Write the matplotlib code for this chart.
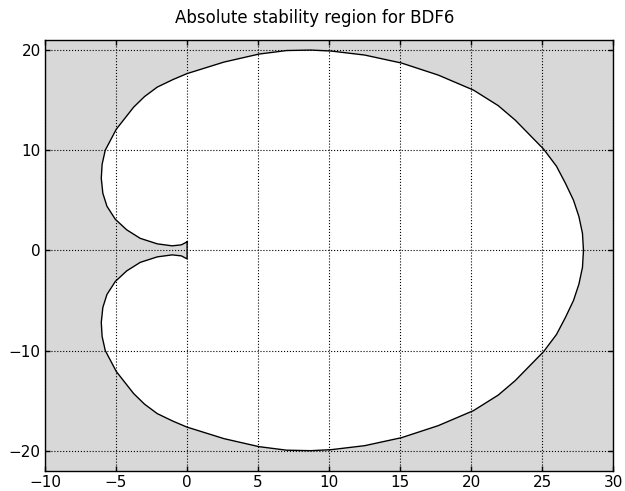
import matplotlib
matplotlib.use("Agg")
import matplotlib.pyplot as plt

# boundary of the region, upper half
# (from the small notch at the origin, round the left, over the top, to the right end)
upper_x = [0.0, -0.4, -1.05, -2.1, -3.3, -4.25, -5.05, -5.64, -5.93, -6.04, -5.98,
           -5.76, -4.98, -3.76, -3.0, -2.1, -1.0, 0.0, 2.6, 5.07, 7.0, 8.7, 10.14, 12.5, 15.1,
           17.68, 20.16, 21.9, 23.1, 25.1, 26.0, 26.63, 27.2, 27.58, 27.83, 27.9]
upper_y = [0.85, 0.55, 0.45, 0.65, 1.2, 2.05, 3.1, 4.4, 5.7, 7.2, 8.6,
           10.0, 12.1, 14.3, 15.35, 16.3, 17.05, 17.65, 18.8, 19.6, 19.95, 20.0, 19.9, 19.5, 18.7,
           17.5, 16.0, 14.45, 13.0, 10.1, 8.4, 6.7, 5.0, 3.37, 1.7, 0.0]

# the curve is symmetric about the real axis
xs = upper_x + upper_x[-2::-1] + [upper_x[0]]
ys = upper_y + [-v for v in upper_y[-2::-1]] + [upper_y[0]]

xticks = [-10, -5, 0, 5, 10, 15, 20, 25, 30]
yticks = [-20, -10, 0, 10, 20]

fig = plt.figure(figsize=(6.25, 4.91), dpi=100)
ax = fig.add_axes([0.072, 0.0413, 0.9093, 0.8772])
ax.set_facecolor('#d8d8d8')
ax.fill(xs, ys, color='white', zorder=1)
ax.plot(xs, ys, color='black', linewidth=1.0, zorder=3)

ax.set_xlim(-10, 30)
ax.set_ylim(-22, 21)
ax.set_xticks(xticks)
ax.set_yticks(yticks)
ax.tick_params(direction='in', top=True, right=True, length=3.5, width=1, labelsize=11, pad=3)
ax.grid(True, color='black', linestyle=':', linewidth=0.8, zorder=2)
ax.set_axisbelow(False)
for s in ax.spines.values():
    s.set_linewidth(1.0)
    s.set_zorder(4)
fig.text(0.503, 0.963, 'Absolute stability region for BDF6', fontsize=12,
         ha='center', va='center')

fig.savefig('out.png', dpi=100)
